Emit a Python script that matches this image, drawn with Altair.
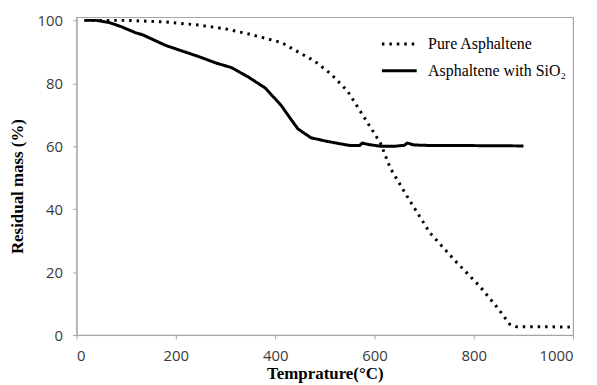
import altair as alt
import pandas as pd

series_names = ["Pure Asphaltene", "Asphaltene with SiO\u2082"]

pure_temp = [16, 100, 180, 246, 300, 346, 412, 446, 480, 512, 546, 580, 612, 632, 666,
             712, 766, 812, 846, 872, 886, 920, 960, 1000]
pure_mass = [100, 100, 99.5, 98.5, 97.3, 95.7, 93, 90, 87, 83, 77.5, 69, 61, 53, 44,
             32.4, 23, 15.5, 9, 3.5, 2.6, 2.6, 2.6, 2.5]

sio2_temp = [16, 40, 66, 90, 120, 132, 180, 246, 280, 312, 346, 380, 412, 432, 446, 472,
             500, 530, 552, 570, 575, 590, 612, 640, 660, 666, 680, 720, 800, 900]
sio2_mass = [100, 100, 99.3, 98, 96, 95.5, 92, 88.5, 86.5, 85, 82, 78.5, 73, 68.5, 65.5, 62.7,
             61.7, 60.8, 60.2, 60.2, 61, 60.5, 60, 60, 60.3, 61, 60.4, 60.2, 60.2, 60.1]

x_ticks = [0, 200, 400, 600, 800, 1000]
y_ticks = [0, 20, 40, 60, 80, 100]

rows = []
for i, (t, m) in enumerate(zip(pure_temp, pure_mass)):
    rows.append({"series": series_names[0], "temp": t, "mass": m, "order": i})
for i, (t, m) in enumerate(zip(sio2_temp, sio2_mass)):
    rows.append({"series": series_names[1], "temp": t, "mass": m, "order": i})
df = pd.DataFrame(rows)

axis_common = dict(
    labelFont="Open Sans", labelFontSize=15, labelColor="#3a3a3a",
    titleFont="Liberation Serif", titleFontSize=17, titleFontWeight="bold", titleColor="#000000",
    domainColor="#a6a6a6", tickColor="#a6a6a6", tickSize=4, grid=False, format="d",
)

chart = alt.Chart(df).mark_line(color="black", strokeWidth=3).encode(
    x=alt.X("temp:Q", scale=alt.Scale(domain=[0, 1000], nice=False),
            axis=alt.Axis(values=x_ticks, title="Temprature(\u00b0C)", labelPadding=10,
                          titleY=39, titleBaseline="middle", **axis_common)),
    y=alt.Y("mass:Q", scale=alt.Scale(domain=[0, 101], nice=False),
            axis=alt.Axis(values=y_ticks, title="Residual mass (%)", labelPadding=10,
                          titleX=-59, titleY=170, titleBaseline="middle", titleAngle=-90,
                          **axis_common)),
    strokeDash=alt.StrokeDash(
        "series:N",
        scale=alt.Scale(domain=series_names, range=[[2.5, 5], [1, 0]]),
        legend=alt.Legend(
            title=None, orient="none", legendX=306, legendY=8,
            symbolType="stroke", symbolSize=1225, symbolStrokeWidth=3,
            symbolStrokeColor="black",
            labelFont="Liberation Serif", labelFontSize=16, labelColor="black",
            labelOffset=10, rowPadding=-5, padding=0,
        ),
    ),
    order="order:Q",
).properties(
    width=500, height=320,
    autosize=alt.AutoSizeParams(type="none"),
    padding={"left": 69, "top": 8, "right": 16, "bottom": 48},
).configure_view(stroke="#a6a6a6", strokeWidth=1.2)

chart.save("out.html", embed_options={"renderer": "svg", "actions": False})
